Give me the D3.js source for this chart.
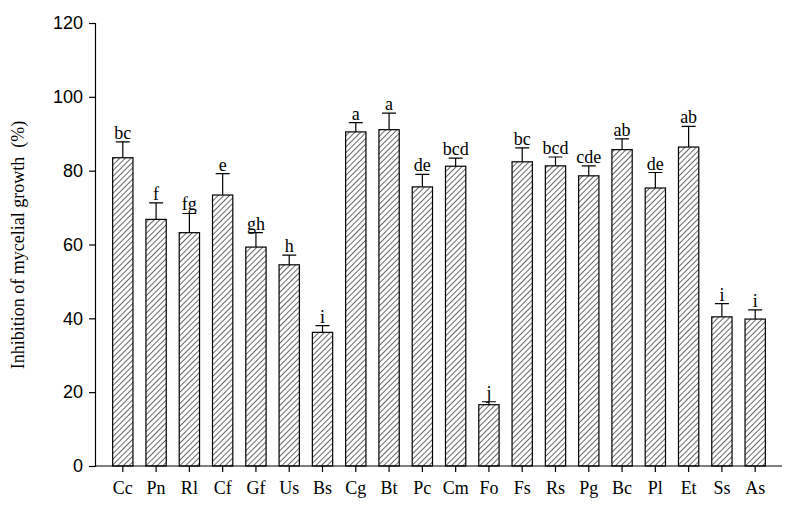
<!DOCTYPE html>
<html><head><meta charset="UTF-8">
<script src="https://cdnjs.cloudflare.com/ajax/libs/d3/7.8.5/d3.min.js"></script>
<style>body{margin:0;background:#fff}text{font-family:"Liberation Serif",serif;fill:#000}</style>
</head><body><div id="chart"></div>
<script>
var categories = ["Cc","Pn","Rl","Cf","Gf","Us","Bs","Cg","Bt","Pc","Cm","Fo","Fs","Rs","Pg","Bc","Pl","Et","Ss","As"];
var values = [83.5,66.8,63.2,73.4,59.3,54.5,36.2,90.5,91.1,75.6,81.2,16.6,82.4,81.3,78.6,85.7,75.3,86.4,40.4,39.8];
var errors = [4.3,4.5,5.2,5.8,3.9,2.6,1.8,2.5,4.5,3.4,2.2,0.8,3.8,2.4,2.7,2.9,4.2,5.6,3.6,2.5];
var letters = ["bc","f","fg","e","gh","h","i","a","a","de","bcd","j","bc","bcd","cde","ab","de","ab","i","i"];
var yTicks = [0,20,40,60,80,100,120];

var svg = d3.select("#chart").append("svg").attr("width",794).attr("height",512);
var defs = svg.append("defs");
var pat = defs.append("pattern").attr("id","hatch").attr("patternUnits","userSpaceOnUse")
    .attr("width",4).attr("height",4).attr("patternTransform","rotate(45)");
pat.append("rect").attr("width",4).attr("height",4).attr("fill","#fff");
pat.append("line").attr("x1",0).attr("y1",0).attr("x2",0).attr("y2",4).attr("stroke","#000").attr("stroke-width",1.2);

var x = d3.scaleBand().domain(categories).range([106,772]).paddingInner(0.39).paddingOuter(0.2);
var y = d3.scaleLinear().domain([0,120]).range([466,23]);

var g = svg.append("g");
// y axis
var ya = svg.append("g").attr("transform","translate(95,0)")
    .call(d3.axisLeft(y).tickValues(yTicks).tickSize(6).tickPadding(6));
ya.selectAll("text").style("font-size","18px").style("font-family","Arial, sans-serif");
// x axis
var xa = svg.append("g").attr("transform","translate(0,466)")
    .call(d3.axisBottom(x).tickSize(6).tickPadding(9));
xa.select(".domain").attr("d","M95,0H782");
xa.selectAll("text").style("font-size","18px");
svg.selectAll(".domain,.tick line").attr("stroke","#000").attr("stroke-width",1.2);

var idx = d3.range(categories.length);
g.selectAll(".err").data(idx).join("path").attr("fill","none").attr("stroke","#000").attr("stroke-width",1.2)
 .attr("d",function(i){var cx=x(categories[i])+x.bandwidth()/2,t=y(values[i]+errors[i]);
   return "M"+cx+","+y(values[i])+"V"+t+"M"+(cx-7)+","+t+"H"+(cx+7);});
g.selectAll(".bar").data(idx).join("rect")
 .attr("x",function(i){return x(categories[i]);}).attr("width",x.bandwidth())
 .attr("y",function(i){return y(values[i]);}).attr("height",function(i){return 466-y(values[i]);})
 .attr("fill","url(#hatch)").attr("stroke","#000").attr("stroke-width",1.2);
g.selectAll(".lab").data(idx).join("text").attr("text-anchor","middle").style("font-size","18px")
 .attr("x",function(i){return x(categories[i])+x.bandwidth()/2;})
 .attr("y",function(i){return y(values[i]+errors[i])-3;}).text(function(i){return letters[i];});

svg.append("text").attr("transform","translate(24,245) rotate(-90)").attr("text-anchor","middle")
 .style("font-size","18px").attr("xml:space","preserve").text("Inhibition of mycelial growth  (%)");
</script></body></html>
